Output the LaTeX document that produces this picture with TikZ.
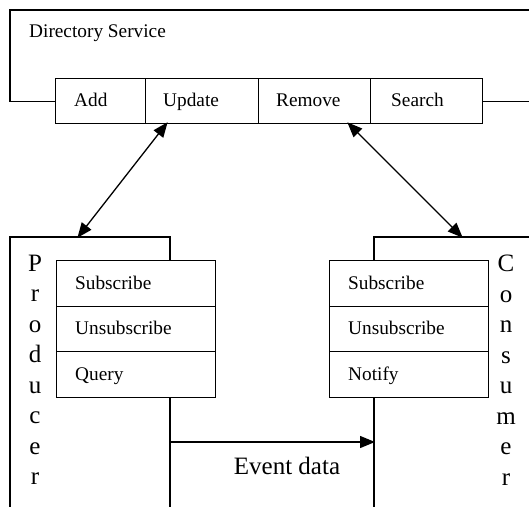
\documentclass[tikz,border=0pt]{standalone}
\usepackage{fontspec}
\setmainfont{Liberation Serif}
\usetikzlibrary{arrows.meta}
\tikzset{
  outline/.style={line width=1.3pt},
  cell/.style={draw, line width=1.3pt, rectangle, anchor=north west, inner sep=0pt},
  celltext/.style={anchor=base west, inner sep=0pt, font=\fontsize{19.3}{22}\selectfont},
  vertword/.style={align=center, inner sep=0pt, font=\fontsize{25}{30.5}\selectfont},
  link/.style={line width=1.3pt, {Triangle[length=15pt,width=12pt]}-{Triangle[length=15pt,width=12pt]}, shorten <=-1pt, shorten >=-1pt},
  flow/.style={line width=1.3pt, -{Triangle[length=15pt,width=12pt]}, shorten >=-1pt}
}
\begin{document}
\begin{tikzpicture}[x=1pt,y=-1pt]
\useasboundingbox (0,0) rectangle (529,506);

% Directory service with its four operations
\node[cell, minimum width=90pt,  minimum height=45pt] (add)    at (55,78)  {};
\node[cell, minimum width=113pt, minimum height=45pt] (update) at (145,78) {};
\node[cell, minimum width=112pt, minimum height=45pt] (remove) at (258,78) {};
\node[cell, minimum width=112pt, minimum height=45pt] (search) at (370,78) {};
\node[celltext] (addT)    at ([shift={(19,5.5)}]add.west)    {Add};
\node[celltext] (updateT) at ([shift={(18,5.5)}]update.west) {Update};
\node[celltext] (removeT) at ([shift={(18,5.5)}]remove.west) {Remove};
\node[celltext] (searchT) at ([shift={(21,5.5)}]search.west) {Search};
\node[celltext] (dirT) at (29,37) {Directory Service};
\draw[outline] (add.west) -- (add.west -| 10,0) -- (10,10) -- (535,10);
\draw[outline] (search.east) -- (search.east -| 535,0);

% Producer
\draw[outline] (10,512) -- (10,237) -- (170,237) -- (170,260);
\node[cell, minimum width=159pt, minimum height=46pt] (psub)   at (56,260) {};
\node[cell, minimum width=159pt, minimum height=45pt] (punsub) at (56,306) {};
\node[cell, minimum width=159pt, minimum height=46pt] (pquery) at (56,351) {};
\node[celltext] (psubT)   at ([shift={(19,5.5)}]psub.west)   {Subscribe};
\node[celltext] (punsubT) at ([shift={(19,5.5)}]punsub.west) {Unsubscribe};
\node[celltext] (pqueryT) at ([shift={(19,5.5)}]pquery.west) {Query};
\draw[outline] (170,397) -- (170,512);
\node[vertword] (prodT) at (35,370) {P\\r\\o\\d\\u\\c\\e\\r};

% Consumer
\draw[outline] (374,260) -- (374,237) -- (535,237);
\node[cell, minimum width=159pt, minimum height=46pt] (csub)    at (329,260) {};
\node[cell, minimum width=159pt, minimum height=45pt] (cunsub)  at (329,306) {};
\node[cell, minimum width=159pt, minimum height=46pt] (cnotify) at (329,351) {};
\node[celltext] (csubT)    at ([shift={(19,5.5)}]csub.west)    {Subscribe};
\node[celltext] (cunsubT)  at ([shift={(19,5.5)}]cunsub.west)  {Unsubscribe};
\node[celltext] (cnotifyT) at ([shift={(19,5.5)}]cnotify.west) {Notify};
\draw[outline] (374,397) -- (374,512);
\node[vertword] (consT) at (506,370) {C\\o\\n\\s\\u\\m\\e\\r};

% Links to the directory
\coordinate (updFoot) at (167,123);
\coordinate (remFoot) at (348,123);
\coordinate (prodTop) at (78,237);
\coordinate (consTop) at (462,237);
\draw[link] (updFoot) -- (prodTop);
\draw[link] (remFoot) -- (consTop);

% Event data from producer to consumer
\coordinate (evFrom) at (170,442);
\coordinate (evTo) at (374,442);
\draw[flow] (evFrom) -- (evTo);
\node[anchor=base, inner sep=0pt, font=\fontsize{25}{30}\selectfont] (evT) at (287,474) {Event data};
\end{tikzpicture}
\end{document}
